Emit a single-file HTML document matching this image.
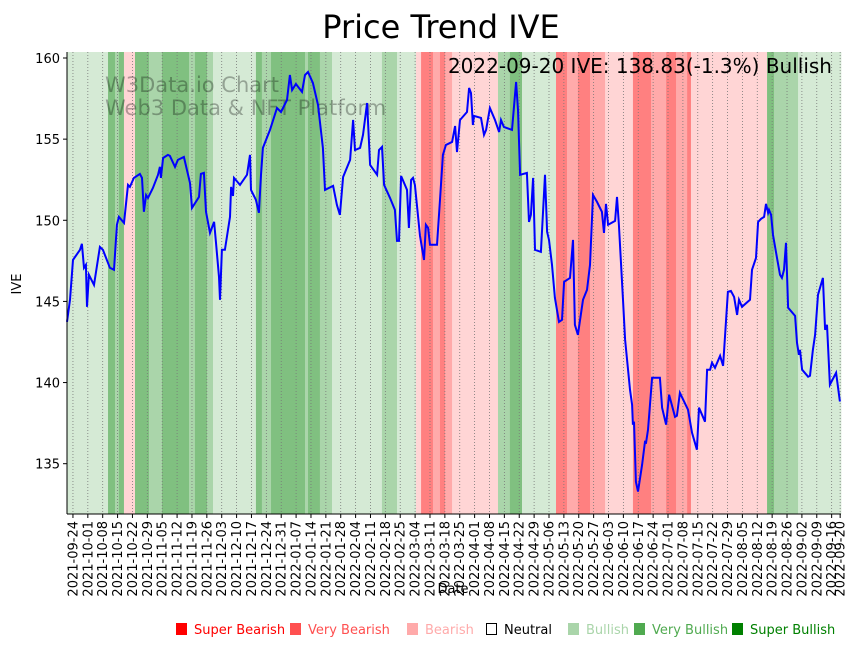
<!DOCTYPE html>
<html><head><meta charset="utf-8"><style>
body{margin:0;background:#fff;width:860px;height:646px;overflow:hidden;font-family:"DejaVu Sans","Liberation Sans",sans-serif}
svg{display:block}
</style></head><body>
<svg id="c" width="860" height="646" xmlns="http://www.w3.org/2000/svg" font-family="DejaVu Sans, Liberation Sans, sans-serif">
<text x="441" y="38" text-anchor="middle" font-size="32">Price Trend IVE</text>
<g id="bands"></g>
<g id="grid"></g>
<g fill="#000" fill-opacity="0.3" font-size="21">
<text x="105" y="92">W3Data.io Chart</text><text x="105" y="115">Web3 Data &amp; NFT Platform</text></g>
<path id="line" fill="none" stroke="#0000ff" stroke-width="2"/>
<text x="832" y="73" text-anchor="end" font-size="20">2022-09-20 IVE: 138.83(-1.3%) Bullish</text>
<g id="axes"></g>
<text x="453" y="593" text-anchor="middle" font-size="13">Date</text>
<text transform="translate(21,284) rotate(-90)" text-anchor="middle" font-size="13">IVE</text>
<g id="legend" font-size="13"></g>
</svg>
<script>
const dayOffsets=[-2.8,-1.4,0,3.3,4.2,5.2,6.1,6.6,7.5,9.9,12.7,14.1,17.4,19.3,20.7,21.6,24,25.9,26.8,28.7,31.5,32.5,33.4,34.4,35.3,37.6,40,40.9,41.4,42.4,44.7,45.6,48,49.4,52.2,55.1,56,59.3,60.2,61.6,62.6,64.5,66.4,67.3,68.7,69.2,70.1,71.5,73.9,74.4,75.3,75.8,78.6,81.9,83.3,83.8,86.1,87.5,88.5,89.4,92.7,96,97.9,100.7,102.1,103.1,104.9,107.8,109.2,110.6,112.9,115.3,117.6,118.6,122.4,124.2,125.6,127.1,130.4,131.8,132.7,135.1,136.5,138.4,139.8,143.1,144,145.4,146.4,149.2,151.5,152.5,153.4,154.4,156.2,157.2,158.1,159.1,160,160.9,163.3,165.2,166.1,167.1,168,171.3,172.7,174.1,175.5,178.4,179.8,180.7,182.1,185.4,186.4,187.3,188.2,188.7,192,193.4,194.4,196.2,198.6,200.5,201.4,202.8,206.6,208.5,209.4,210.4,213.6,214.6,215.5,216.5,217.4,220.2,222.1,223.1,224,225.4,226.8,228.7,230.1,231.1,233.9,235.3,236.2,237.6,240,241.9,243.3,244.7,246.6,248.9,249.9,250.8,251.8,255.1,256,256.9,258.8,259.8,262.1,263.1,263.5,264,264.9,265.9,267.8,269.2,269.6,270.6,272.5,276.2,277.2,279.1,280.5,283.3,284.2,285.6,289.4,291.3,293.6,294.6,297.4,298.4,299.8,300.7,302.1,304.5,305.9,308.2,309.6,311.1,312.5,313.4,314.8,318.6,319.5,321.4,322.4,323.8,325.2,326.1,327.1,327.5,328.5,329.4,331.3,332.7,333.6,334.6,335.5,336.5,339.8,340.7,341.6,342.1,343.1,345.9,346.8,348.2,349.2,350.6,352.9,353.9,354.8,356.2,359.1,360.9];
const prices=[143.74,145.1,147.56,148.18,148.55,147.07,147.25,144.67,146.64,146.02,148.36,148.18,147.07,146.95,149.72,150.21,149.84,152.18,152.06,152.61,152.86,152.61,150.52,151.56,151.38,151.99,152.8,153.29,152.61,153.84,154.03,153.97,153.29,153.72,153.9,152.3,150.76,151.44,152.86,152.92,150.52,149.22,149.9,148.61,146.51,145.1,148.18,148.18,150.21,152.06,151.5,152.61,152.18,152.8,154.03,151.87,151.26,150.46,152.8,154.46,155.57,156.92,156.67,157.41,158.95,158.03,158.4,157.91,158.95,159.14,158.46,157.11,154.46,151.87,152.12,150.95,150.33,152.67,153.72,156.18,154.33,154.46,155.26,157.23,153.41,152.8,154.33,154.52,152.18,151.38,150.64,148.73,148.73,152.73,152.18,151.87,149.53,152.49,152.61,152.18,149.04,147.56,149.72,149.53,148.49,148.49,151.26,154.03,154.64,154.83,155.81,154.21,156.18,156.67,158.15,157.84,155.87,156.43,156.31,155.26,155.57,156.92,156.18,155.44,156.18,155.75,155.57,158.52,156.8,152.8,152.92,149.9,150.33,152.61,148.18,148.05,152.8,149.29,148.79,147.25,145.22,143.74,143.87,146.21,146.45,148.79,143.56,142.94,145.1,145.71,147.25,151.56,151.13,150.52,149.22,151.01,149.72,149.96,151.44,149.72,145.1,142.64,139.56,138.63,137.4,137.59,133.89,133.28,134.94,136.42,136.23,137.09,140.3,140.3,138.45,137.4,139.25,137.89,137.96,139.37,138.33,136.91,135.86,138.45,137.59,140.79,140.79,141.22,140.91,141.65,141.03,145.59,145.65,145.28,144.17,145.1,144.67,145.1,146.95,147.68,149.9,150.09,150.21,151.01,150.46,150.64,150.33,149.1,147.68,146.64,146.45,146.95,148.61,144.61,144.11,142.45,141.71,142.02,140.79,140.36,140.42,142.02,142.94,145.41,146.45,143.25,143.56,139.87,140.6,138.83];
const bandStarts=[-2.8,16.5,19.8,21.6,24,29.2,35.8,41.9,54.6,57.4,63.1,65.9,86.1,88.9,93.2,109.2,110.6,116.2,121.9,145.4,152.5,161.4,163.8,169.4,172.7,175.1,178.4,200,205.6,211.3,227.3,232.5,237.6,243.3,250.4,263.5,272,279.1,283.8,289,290.8,326.6,329.9,341.2];
const bandLevels=[1,3,2,3,-1,3,2,3,2,3,2,1,3,2,3,2,3,2,1,2,1,-1,-3,-2,-3,-2,-1,2,3,1,-3,-2,-3,-2,-1,-3,-2,-3,-2,-3,-1,3,2,1];
const yTicks=[135,140,145,150,155,160];
const tickLabels=["2021-09-24","2021-10-01","2021-10-08","2021-10-15","2021-10-22","2021-10-29","2021-11-05","2021-11-12","2021-11-19","2021-11-26","2021-12-03","2021-12-10","2021-12-17","2021-12-24","2021-12-31","2022-01-07","2022-01-14","2022-01-21","2022-01-28","2022-02-04","2022-02-11","2022-02-18","2022-02-25","2022-03-04","2022-03-11","2022-03-18","2022-03-25","2022-04-01","2022-04-08","2022-04-15","2022-04-22","2022-04-29","2022-05-06","2022-05-13","2022-05-20","2022-05-27","2022-06-03","2022-06-10","2022-06-17","2022-06-24","2022-07-01","2022-07-08","2022-07-15","2022-07-22","2022-07-29","2022-08-05","2022-08-12","2022-08-19","2022-08-26","2022-09-02","2022-09-09","2022-09-16","2022-09-20"];
const NS="http://www.w3.org/2000/svg";
const L=67,R=841,T=52,B=514,D0=-2.8,D1=361.4,V0=131.9,V1=160.37;
const X=d=>L+(d-D0)/(D1-D0)*(R-L);
const Y=v=>B-(v-V0)/(V1-V0)*(B-T);
const base=Date.UTC(2021,8,24);
const dayOf=s=>{const p=s.split('-');return (Date.UTC(+p[0],p[1]-1,+p[2])-base)/864e5;};
const col={"1":"#d5ead5","2":"#aad5aa","3":"#80c080","-1":"#ffd5d5","-2":"#ffaaaa","-3":"#ff8080"};
function mk(t,a,p){const e=document.createElementNS(NS,t);for(const k in a)e.setAttribute(k,a[k]);p.appendChild(e);return e;}
const bands=document.getElementById('bands');
for(let i=0;i<bandStarts.length;i++){
 const x0=X(bandStarts[i]),x1=X(i+1<bandStarts.length?bandStarts[i+1]:D1);
 const r=mk('rect',{x:x0,y:T,width:x1-x0+0.3,height:B-T,fill:col[bandLevels[i]]},bands);
 
 
}
const grid=document.getElementById('grid'),axes=document.getElementById('axes');
tickLabels.forEach(s=>{
 const x=X(dayOf(s));
 const g=mk('line',{x1:x,x2:x,y1:T,y2:B,stroke:'#777',"stroke-width":0.8,"stroke-dasharray":"1,2"},grid);
 
 
 mk('line',{x1:x,x2:x,y1:B,y2:B+4,stroke:'#000'},axes);
 const t=mk('text',{transform:`translate(${x+4.5},${B+7}) rotate(-90)`,"text-anchor":"end","font-size":13},axes);
 t.textContent=s;
 
 
});
yTicks.forEach(v=>{
 const y=Y(v);
 mk('line',{x1:L-4,x2:L,y1:y,y2:y,stroke:'#000'},axes);
 const t=mk('text',{x:L-7,y:y+5,"text-anchor":"end","font-size":13},axes);
 t.textContent=v;
 
 
});
mk('line',{x1:L,x2:L,y1:T,y2:B,stroke:'#000'},axes);
mk('line',{x1:L,x2:R,y1:B,y2:B,stroke:'#000'},axes);
const n=Math.min(dayOffsets.length,prices.length);
let d='';for(let i=0;i<n;i++)d+=(i?'L':'M')+X(dayOffsets[i]).toFixed(1)+','+Y(prices[i]).toFixed(1);
document.getElementById('line').setAttribute('d',d);
const legNames=["Super Bearish","Very Bearish","Bearish","Neutral","Bullish","Very Bullish","Super Bullish"];
const legColors=["#ff0000","#ff5050","#ffaaaa","#000000","#aad5aa","#50aa50","#008000"];
const legX=[176,290,407,486,568,634,732];
const leg=document.getElementById('legend');
legNames.forEach((nm,i)=>{
 const g=mk('g',{},leg);
 
 
 if(nm==="Neutral")mk('rect',{x:legX[i]+0.5,y:623.5,width:10,height:11,fill:'none',stroke:'#000'},g);
 else mk('rect',{x:legX[i],y:623,width:11,height:12,fill:legColors[i]},g);
 const t=mk('text',{x:legX[i]+18,y:634,fill:legColors[i]},g);t.textContent=nm;
});
</script>
</body></html>
